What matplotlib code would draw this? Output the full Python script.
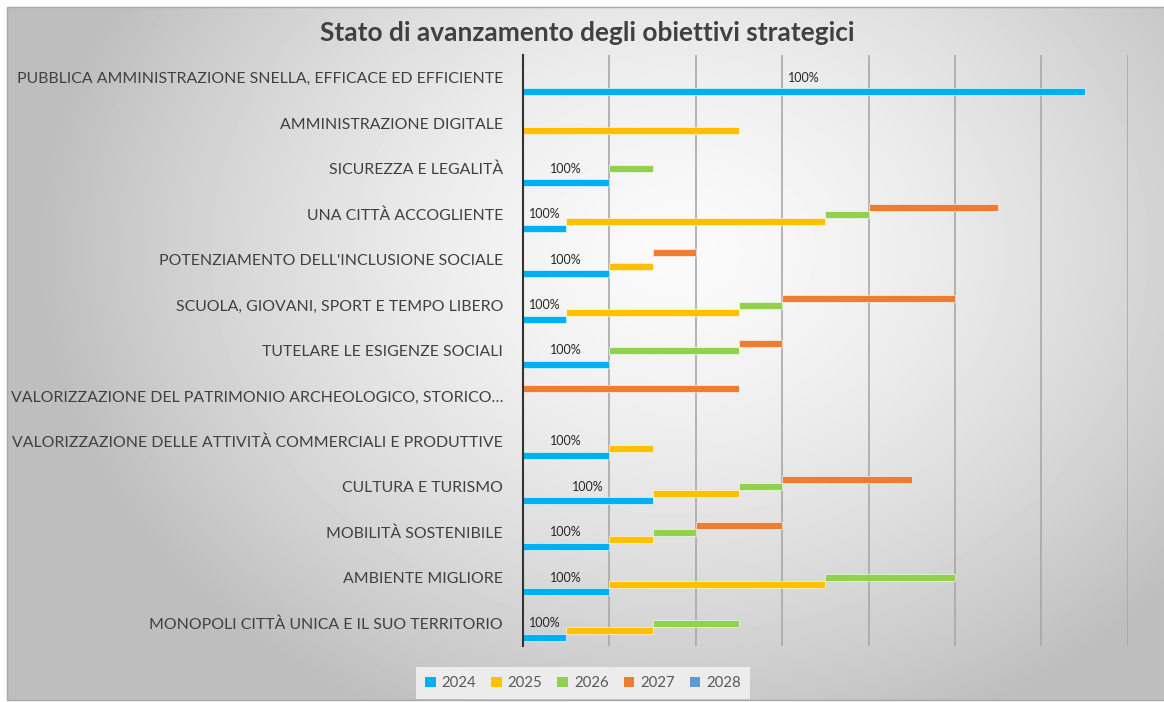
import numpy as np
import matplotlib.pyplot as plt
from matplotlib.patches import Rectangle, Patch

plt.rcParams["font.family"] = ["Lato", "DejaVu Sans"]

categories = [
    "PUBBLICA AMMINISTRAZIONE SNELLA, EFFICACE ED EFFICIENTE",
    "AMMINISTRAZIONE DIGITALE",
    "SICUREZZA E LEGALITÀ",
    "UNA CITTÀ ACCOGLIENTE",
    "POTENZIAMENTO DELL'INCLUSIONE SOCIALE",
    "SCUOLA, GIOVANI, SPORT E TEMPO LIBERO",
    "TUTELARE LE ESIGENZE SOCIALI",
    "VALORIZZAZIONE DEL PATRIMONIO ARCHEOLOGICO, STORICO…",
    "VALORIZZAZIONE DELLE ATTIVITÀ COMMERCIALI E PRODUTTIVE",
    "CULTURA E TURISMO",
    "MOBILITÀ SOSTENIBILE",
    "AMBIENTE MIGLIORE",
    "MONOPOLI CITTÀ UNICA E IL SUO TERRITORIO",
]

years = ["2024", "2025", "2026", "2027", "2028"]
v2024 = [6.5, 0, 1, 0.5, 1, 0.5, 1, 0, 1, 1.5, 1, 1, 0.5]
v2025 = [0, 2.5, 0, 3, 0.5, 2, 0, 0, 0.5, 1, 0.5, 2.5, 1]
v2026 = [0, 0, 0.5, 0.5, 0, 0.5, 1.5, 0, 0, 0.5, 0.5, 1.5, 1]
v2027 = [0, 0, 0, 1.5, 0.5, 2, 0.5, 2.5, 0, 1.5, 1, 0, 0]
v2028 = [0, 0, 0, 0, 0, 0, 0, 0, 0, 0, 0, 0, 0]
labels_2024 = ["100%", "", "100%", "100%", "100%", "100%", "100%", "",
               "100%", "100%", "100%", "100%", "100%"]

colors = ["#00B0F0", "#FFC000", "#92D050", "#ED7D31", "#5B9BD5"]

W, H = 1164, 702
fig = plt.figure(figsize=(W / 100, H / 100), dpi=100)

# background: radial grey gradient like the Excel chart area
bg = fig.add_axes([0, 0, 1, 1], zorder=0)
bg.set_xlim(0, W)
bg.set_ylim(H, 0)
bg.axis("off")
xx, yy = np.meshgrid(np.linspace(7, W, 300), np.linspace(7, 700, 200))
r = np.sqrt(((xx - 680) / 640) ** 2 + ((yy - 250) / 520) ** 2)
r = np.clip(r, 0, 1)
shade = 0.98 - 0.235 * r ** 1.5
bg.imshow(shade, cmap="gray", vmin=0, vmax=1, extent=(7, W, 700, 7),
          aspect="auto", interpolation="bilinear")
bg.add_patch(Rectangle((7, 7), W, 693, fill=False, edgecolor="#a8a8a8", lw=1))

ax = fig.add_axes([523 / W, (H - 646) / H, (1127.7 - 523) / W, (646 - 55) / H], zorder=2)
ax.patch.set_alpha(0)

y = np.arange(len(categories))
slot = 1 / 6.5
series = [v2024, v2025, v2026, v2027, v2028]
left = np.zeros(len(categories))
for k, vals in enumerate(series):
    vals = np.array(vals, dtype=float)
    keep = vals > 0
    if keep.any():
        ax.barh(y[keep] + (2 - k) * slot, vals[keep], left=left[keep], height=slot,
                color=colors[k], edgecolor="white", linewidth=0.4)
    left = left + vals

for i, txt in enumerate(labels_2024):
    if txt:
        ax.text(v2024[i] / 2, y[i], txt, ha="center", va="center",
                fontsize=9, color="#262626")

ax.set_xlim(0, 7)
ax.set_ylim(len(categories) - 0.5, -0.5)
ax.set_xticks(np.arange(0, 8))
ax.set_xticklabels([])
ax.set_yticks(y)
ax.set_yticklabels(categories, fontsize=11.4, color="#404040")
ax.tick_params(axis="both", length=0)
ax.tick_params(axis="y", pad=14.4)
ax.grid(axis="x", color="#a8a8a8", linewidth=1.2)
ax.set_axisbelow(True)
for side in ["top", "right", "bottom"]:
    ax.spines[side].set_visible(False)
ax.spines["left"].set_color("#333333")
ax.spines["left"].set_linewidth(1.5)

fig.text(587 / W, 1 - 33 / H, "Stato di avanzamento degli obiettivi strategici",
         ha="center", va="center", fontsize=18.9, fontweight="bold", color="#404040")

handles = [Patch(facecolor=c, edgecolor="none") for c in colors]
leg = fig.legend(handles, years, loc="center", bbox_to_anchor=(583 / W, 1 - 683 / H),
                 ncol=5, fontsize=10.8, handlelength=0.7, handleheight=0.7,
                 handletextpad=0.4, columnspacing=1.0, frameon=True, fancybox=False,
                 borderpad=0.6)
leg.get_frame().set_facecolor("#ececec")
leg.get_frame().set_edgecolor("none")
leg.get_frame().set_alpha(1)
for t in leg.get_texts():
    t.set_color("#595959")

fig.savefig("out.png", dpi=100)
